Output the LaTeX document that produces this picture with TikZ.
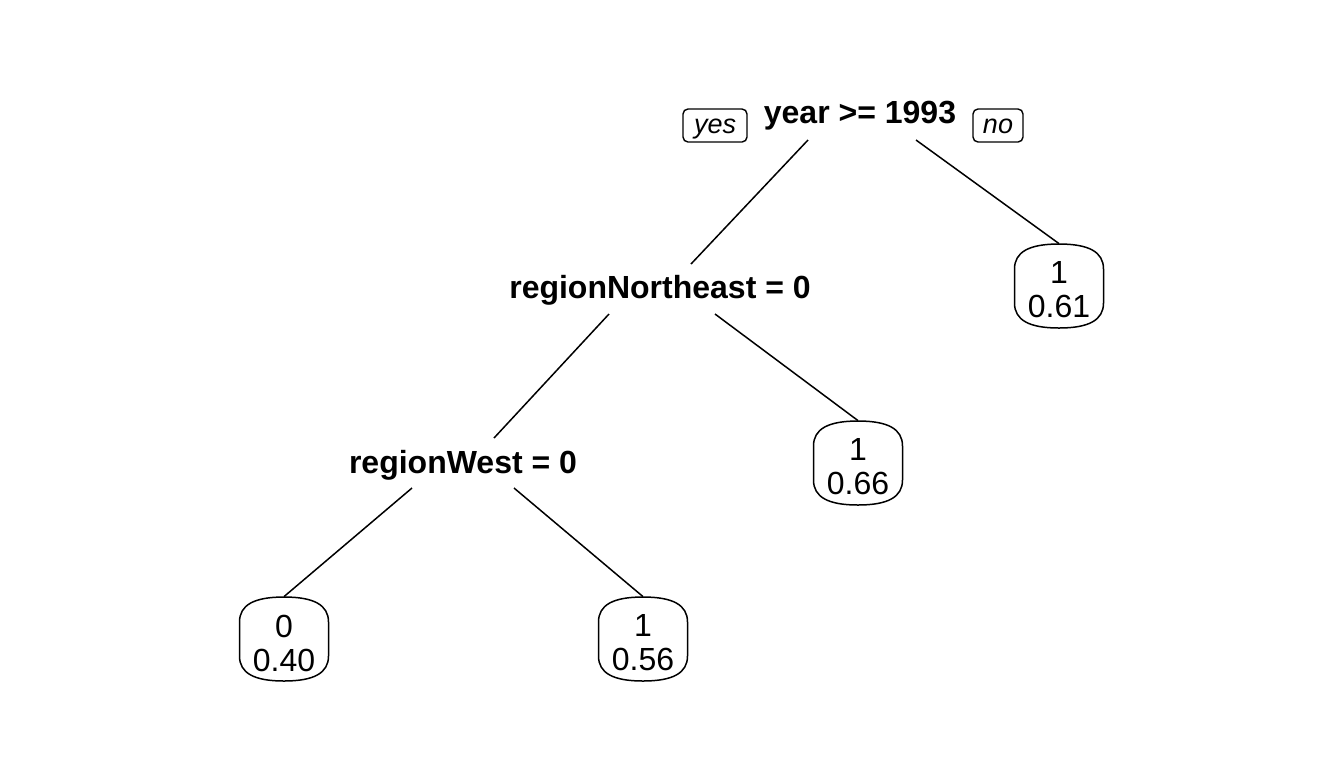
\documentclass[tikz,border=0pt]{standalone}
\usepackage{fontspec}
\setmainfont{Liberation Sans}
\usetikzlibrary{calc}
\tikzset{
  px/.style={x=0.5pt,y=-0.5pt},
  split/.style={font=\fontsize{16}{17}\selectfont\bfseries, inner sep=0pt, anchor=base},
  leaf/.style={inner sep=0pt, minimum width=44.5pt, minimum height=42pt},
  leaftext/.style={font=\fontsize{16}{17}\selectfont, align=center, inner sep=0pt},
  tag/.style={draw, line width=0.7pt, rounded corners=2.5pt, font=\fontsize{13.5}{15}\selectfont\itshape,
    inner xsep=0pt, inner ysep=0pt, minimum height=16.5pt, text height=9.5pt, text depth=2pt},
  edge/.style={line width=0.75pt},
  leafline/.style={line width=0.75pt}
}
\newcommand{\leafbox}[1]{%
  \begin{scope}[shift={(#1.center)}]
    \draw[leafline] (-44.5,-17) -- (-44.5,17)
      .. controls (-44.5,34) and (-30,42) .. (0,42)
      .. controls (30,42) and (44.5,34) .. (44.5,17)
      -- (44.5,-17)
      .. controls (44.5,-34) and (30,-42) .. (0,-42)
      .. controls (-30,-42) and (-44.5,-34) .. (-44.5,-17) -- cycle;
  \end{scope}}
\begin{document}
\begin{tikzpicture}[px]
\useasboundingbox (0,0) rectangle (1344,768);
% split labels
\node[split] (root) at (860,123) {year >= 1993};
\node[split] (rne) at (660,298) {regionNortheast = 0};
\node[split] (rw) at (463,473) {regionWest = 0};
% yes / no tags
\node[tag, minimum width=32pt] (yes) at (715,125.5) {yes};
\node[tag, minimum width=25pt] (no) at (998,125.5) {no};
% leaves
\node[leaf] (l61) at (1059,286) {};
\node[leaf] (l66) at (858,463) {};
\node[leaf] (l40) at (284,639) {};
\node[leaf] (l56) at (643,639) {};
\node[leaftext] (l61t) at ($(l61.center)+(0,4)$) {1\\0.61};
\node[leaftext] (l66t) at ($(l66.center)+(0,4)$) {1\\0.66};
\node[leaftext] (l40t) at ($(l40.center)+(0,4)$) {0\\0.40};
\node[leaftext] (l56t) at ($(l56.center)+(0,4)$) {1\\0.56};
\leafbox{l61}
\leafbox{l66}
\leafbox{l40}
\leafbox{l56}
% branch points
\coordinate (rootL) at ($(root.base)+(-52,17)$);
\coordinate (rootR) at ($(root.base)+(56,17)$);
\coordinate (rneL) at ($(rne.base)+(-51,16)$);
\coordinate (rneR) at ($(rne.base)+(55,16)$);
\coordinate (rwL) at ($(rw.base)+(-51,15)$);
\coordinate (rwR) at ($(rw.base)+(51,15)$);
\coordinate (rneT) at ($(rne.base)+(31,-34)$);
\coordinate (rwT) at ($(rw.base)+(31,-35)$);
% edges
\draw[edge] (rootL) -- (rneT);
\draw[edge] (rootR) -- (l61.north);
\draw[edge] (rneL) -- (rwT);
\draw[edge] (rneR) -- (l66.north);
\draw[edge] (rwL) -- (l40.north);
\draw[edge] (rwR) -- (l56.north);
\end{tikzpicture}
\end{document}
